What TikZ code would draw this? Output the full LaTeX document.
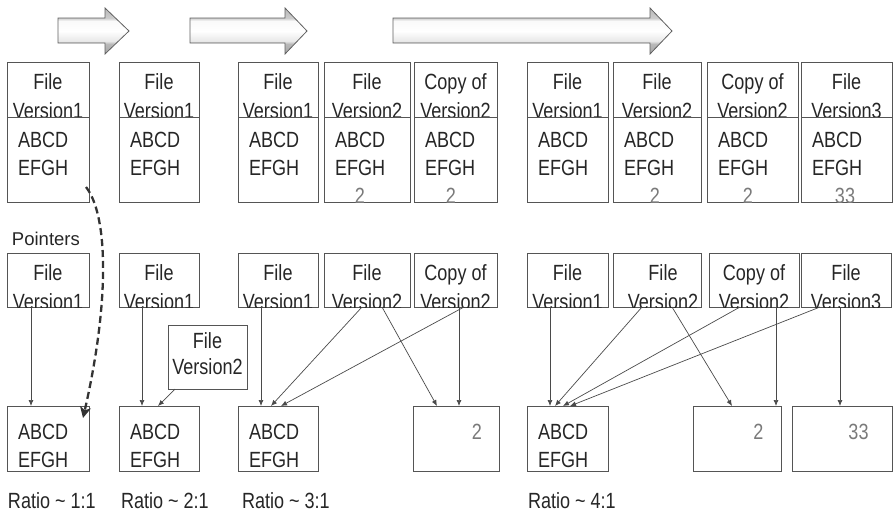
\documentclass[tikz,border=0pt]{standalone}
\usepackage{fontspec}
\setmainfont{Liberation Sans}[FakeStretch=0.82]
\newfontfamily\labelfont{Liberation Sans}
\usetikzlibrary{arrows.meta,shadings}

\definecolor{boxgray}{HTML}{555555}
\definecolor{txtgray}{HTML}{262626}
\definecolor{numgray}{HTML}{7A7A7A}
\definecolor{ptrgray}{HTML}{4A4A4A}
\definecolor{hopgray}{HTML}{333333}

% bevelled fill for the progress arrows (bottom of the shape at 25bp, top at 75bp)
\pgfdeclareverticalshading{bevel}{100bp}{%
  color(0bp)=(gray!70); color(25bp)=(gray!70); color(36bp)=(gray!55);
  color(39bp)=(gray!18); color(50bp)=(white); color(61bp)=(gray!4);
  color(64bp)=(gray!40); color(75bp)=(gray!55); color(100bp)=(gray!55)}

\tikzset{
  cell/.style={draw=boxgray, line width=0.9pt, inner sep=0pt, outer sep=0pt, anchor=north west},
  txt/.style={font=\fontsize{22}{26}\selectfont, text=txtgray, inner sep=0pt, outer sep=0pt},
  num/.style={txt, text=numgray},
  lbl/.style={font=\labelfont\fontsize{18.5}{22}\selectfont, text=txtgray, inner sep=0pt, outer sep=0pt},
  ptr/.style={draw=ptrgray, line width=0.7pt, -{Latex[length=6pt,width=5pt]}},
  hop/.style={draw=hopgray, line width=2.3pt, dash pattern=on 7pt off 4pt,
              -{Stealth[length=11pt,width=11pt,inset=3pt]}},
  block/.style={draw=gray!75!black, line width=0.8pt, shading=bevel},
}

% title cell: two centred lines, the second one cut off by the lower border
\newcommand\headcell[8][0pt]{%
  \node[cell, minimum width=#5pt, minimum height=#6pt] (#2) at (#3,#4) {};
  \begin{scope}
    \clip (#2.south west) rectangle (#2.north east);
    \node[txt, anchor=base] (#2-1) at ([xshift=#1, yshift=-27pt]#2.north) {#7};
    \node[txt, anchor=base] (#2-2) at ([xshift=#1, yshift=-56pt]#2.north) {#8};
  \end{scope}}

% data cell holding the two lines ABCD / EFGH
\newcommand\bodycell[7]{%
  \node[cell, minimum width=#4pt, minimum height=#5pt] (#1) at (#2,#3) {};
  \node[txt, anchor=base west] (#1-1) at ([xshift=11pt, yshift=-#6pt]#1.north west) {ABCD};
  \node[txt, anchor=base west] (#1-2) at ([xshift=11pt, yshift=-#7pt]#1.north west) {EFGH};}

% grey changed block, clipped to its cell
\newcommand\changed[5]{%
  \begin{scope}
    \clip (#2.south west) rectangle (#2.north east);
    \node[num, anchor=base] (#1) at ([xshift=#3pt, yshift=-#4pt]#2.north west) {#5};
  \end{scope}}

\begin{document}
\begin{tikzpicture}[x=1pt,y=-1pt]
\useasboundingbox (0,0) rectangle (893,514);

% progress arrows
\path[block] (58,18) -- (105,18) -- (105,8) -- (129,31) -- (105,54) -- (105,43) -- (58,43) -- cycle;
\path[block] (190,18) -- (285,18) -- (285,8) -- (307,31) -- (285,54) -- (285,43) -- (190,43) -- cycle;
\path[block] (393,18) -- (650,18) -- (650,8) -- (672,31) -- (650,54) -- (650,43) -- (393,43) -- cycle;

% full copies of every file
\headcell{t1}{7}{62}{82}{55}{File}{Version1}
\headcell{t2}{119}{62}{80}{55}{File}{Version1}
\headcell{t3}{238}{62}{80}{55}{File}{Version1}
\headcell{t4}{324}{62}{86}{55}{File}{Version2}
\headcell{t5}{414}{62}{83}{55}{Copy of}{Version2}
\headcell{t6}{527}{62}{81}{55}{File}{Version1}
\headcell{t7}{613}{62}{88}{55}{File}{Version2}
\headcell{t8}{707}{62}{91}{55}{Copy of}{Version2}
\headcell{t9}{801}{62}{91}{55}{File}{Version3}

\bodycell{u1}{7}{117}{82}{85}{30}{58}
\bodycell{u2}{119}{117}{80}{85}{30}{58}
\bodycell{u3}{238}{117}{80}{85}{30}{58}
\bodycell{u4}{324}{117}{86}{85}{30}{58}
\bodycell{u5}{414}{117}{83}{85}{30}{58}
\bodycell{u6}{527}{117}{81}{85}{30}{58}
\bodycell{u7}{613}{117}{88}{85}{30}{58}
\bodycell{u8}{707}{117}{91}{85}{30}{58}
\bodycell{u9}{801}{117}{91}{85}{30}{58}

\changed{u4d}{u4}{36}{86}{2}
\changed{u5d}{u5}{37}{86}{2}
\changed{u7d}{u7}{42}{86}{2}
\changed{u8d}{u8}{41}{86}{2}
\changed{u9d}{u9}{44}{86}{33}

% pointer records
\node[lbl, anchor=base west] (pointers) at (12,245) {Pointers};
\headcell{m1}{7}{253}{82}{54}{File}{Version1}
\headcell{m2}{119}{253}{80}{54}{File}{Version1}
\headcell{m3}{238}{253}{80}{54}{File}{Version1}
\headcell{m4}{324}{253}{86}{54}{File}{Version2}
\headcell{m5}{414}{253}{83}{54}{Copy of}{Version2}
\headcell{m6}{527}{253}{81}{54}{File}{Version1}
\headcell[6pt]{m7}{613}{253}{88}{54}{File}{Version2}
\headcell{m8}{709}{253}{90}{54}{Copy of}{Version2}
\headcell{m9}{801}{253}{90}{54}{File}{Version3}

\node[cell, minimum width=79pt, minimum height=64pt] (f2) at (168,325) {};
\node[txt, anchor=base] (f2-1) at ([yshift=-23pt]f2.north) {File};
\node[txt, anchor=base] (f2-2) at ([yshift=-49pt]f2.north) {Version2};

% stored blocks
\bodycell{b1}{7}{406}{82}{65}{33}{61}
\bodycell{b2}{119}{406}{80}{65}{33}{61}
\bodycell{b3}{238}{406}{80}{65}{33}{61}
\node[cell, minimum width=86pt, minimum height=65pt] (b4) at (413,406) {};
\bodycell{b6}{527}{406}{81}{65}{33}{61}
\node[cell, minimum width=88pt, minimum height=65pt] (b7) at (693,406) {};
\node[cell, minimum width=100pt, minimum height=65pt] (b8) at (792,406) {};
\changed{b4d}{b4}{64}{33}{2}
\changed{b7d}{b7}{65.5}{33}{2}
\changed{b8d}{b8}{66.5}{33}{33}

% pointers to blocks
\draw[ptr] (31,0 |- m1.south) -- (31,0 |- b1.north);
\draw[ptr] (142,0 |- m2.south) -- (142,0 |- b2.north);
\draw[ptr] (175,0 |- f2.south) -- (158,0 |- b2.north);
\draw[ptr] (261,0 |- m3.south) -- (261,0 |- b3.north);
\draw[ptr] (362,0 |- m4.south) -- (271,0 |- b3.north);
\draw[ptr] (382,0 |- m4.south) -- (437,0 |- b4.north);
\draw[ptr] (464,0 |- m5.south) -- (281,0 |- b3.north);
\draw[ptr] (459,0 |- m5.south) -- (459,0 |- b4.north);
\draw[ptr] (550,0 |- m6.south) -- (550,0 |- b6.north);
\draw[ptr] (642,0 |- m7.south) -- (555,0 |- b6.north);
\draw[ptr] (672,0 |- m7.south) -- (732,0 |- b7.north);
\draw[ptr] (740,0 |- m8.south) -- (563,0 |- b6.north);
\draw[ptr] (776,0 |- m8.south) -- (776,0 |- b7.north);
\draw[ptr] (820,0 |- m9.south) -- (570,0 |- b6.north);
\draw[ptr] (840,0 |- m9.south) -- (840,0 |- b8.north);

% the first full copy becomes a stored block
\coordinate (hopstart) at (86,187);
\coordinate (hopend) at (83,418);
\draw[hop] (hopstart) .. controls (108,215) and (110,300) .. (hopend);

% ratios
\node[txt, anchor=base west] (r1) at (8,508) {Ratio \textasciitilde{} 1:1};
\node[txt, anchor=base west] (r2) at (121,508) {Ratio \textasciitilde{} 2:1};
\node[txt, anchor=base west] (r3) at (242,508) {Ratio \textasciitilde{} 3:1};
\node[txt, anchor=base west] (r4) at (528,508) {Ratio \textasciitilde{} 4:1};
\end{tikzpicture}
\end{document}
